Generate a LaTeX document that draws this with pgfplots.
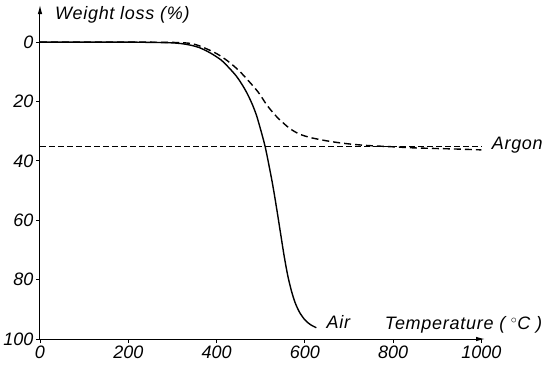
\documentclass[border=0pt]{standalone}
\usepackage{fontspec}
\setmainfont{Liberation Sans}
\usepackage{pgfplots}
\pgfplotsset{compat=1.18}
\usetikzlibrary{arrows.meta}
\newcommand{\lbl}{\fontsize{18}{21}\selectfont\itshape\addfontfeature{LetterSpace=4}}
\begin{document}
\begin{tikzpicture}
\begin{axis}[
 scale only axis, width=445pt, height=334pt,
 xmin=0, xmax=1008, ymin=-12.5, ymax=100, y dir=reverse,
 axis x line=bottom, axis y line=left,
 x axis line style={line width=1pt, -{Latex[length=9pt,width=4.5pt]}},
 y axis line style={line width=1pt, {Latex[length=9pt,width=4.5pt]}-},
 xtick={0,200,400,600,800,1000}, ytick={0,20,40,60,80,100},
 xticklabels={0,200,400,600,800,1000},
 yticklabels={0,20,40,60,80,100},
 tick align=outside, major tick length=4pt,
 tick style={black, line width=0.8pt},
 ticklabel style={font=\fontsize{18}{21}\selectfont\itshape},
 xticklabel style={yshift=1pt},
 yticklabel style={xshift=1pt},
 clip=false,
]
\addplot[black, line width=1.4pt, smooth] coordinates {
(0,0) (100,0) (200,0) (290,0.2) (320,0.5) (340,1) (360,1.8) (384,3.5) (410,6) (429,8.8) (445,11.5) (459,14.6) (470,17.5) (481,21) (490,24.5) (497,28) (503,31.2) (510,35.2) (518,41) (527,48) (536,56) (545,64.5) (553,72) (561,78.5) (569,83.5) (578,87.8) (589,91.3) (601,93.7) (613,95.2) (626,96.2)
};
\addplot[black, line width=1.4pt, smooth, dash pattern=on 7pt off 4pt] coordinates {
(0,0) (200,0) (300,0.1) (339,0.4) (360,1.2) (384,2.7) (405,4.3) (429,6.8) (452,9.8) (475,13.5) (495,17) (513,21) (528,23.8) (542,26) (565,29) (588,31) (617,32.3) (655,33.4) (694,34.2) (739,34.8) (791,35.2) (843,35.6) (888,35.8) (940,36) (1000,36.3)
};
\addplot[black, line width=0.6pt, dash pattern=on 6pt off 3pt] coordinates {(0,35) (1000,35)};
\node[anchor=west, font=\lbl, inner sep=0pt] at (axis cs:34,-9.1) {Weight loss (\%)};
\node[anchor=east, font=\lbl, inner sep=0pt] at (axis cs:1138,95.3) {Temperature ( $^\circ$C )};
\node[anchor=west, font=\lbl, inner sep=0pt] at (axis cs:649,94.3) {Air};
\node[anchor=west, font=\lbl, inner sep=0pt] at (axis cs:1023,34.7) {Argon};
\end{axis}
\path[use as bounding box] (-40pt,-31pt) rectangle (504pt,339pt);
\end{tikzpicture}
\end{document}
